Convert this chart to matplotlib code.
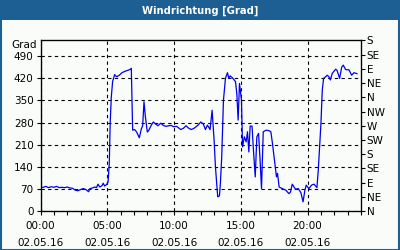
"""Wind direction chart (Windrichtung) for one day."""

import matplotlib
matplotlib.use("Agg")
import matplotlib.pyplot as plt
from matplotlib.patches import Rectangle

# ── data: hour of day and wind direction in degrees ─────────────────────────
hours = [
    0.0, 0.2, 0.4, 0.6, 0.8, 1.0, 1.2, 1.4, 1.6, 1.8, 2.0, 2.2, 2.4, 2.6, 2.8,
    3.0, 3.2, 3.4, 3.6, 3.7, 3.9, 4.07, 4.2, 4.3, 4.44, 4.6, 4.7, 4.8, 4.95,
    5.06, 5.15, 5.22, 5.3, 5.4, 5.55, 5.7, 5.9, 6.1, 6.3, 6.5, 6.7, 6.8, 6.9,
    7.05, 7.2, 7.4, 7.55, 7.65, 7.75, 7.85, 8.0, 8.1, 8.3, 8.45, 8.6, 8.8, 9.0,
    9.2, 9.4, 9.6, 9.8, 9.95, 10.2, 10.5, 10.7, 10.9, 11.1, 11.3, 11.5, 11.8,
    12.0, 12.2, 12.35, 12.5, 12.7, 12.85, 13.0, 13.1, 13.27, 13.4, 13.47,
    13.57, 13.7, 13.85, 14.0, 14.1, 14.2, 14.35, 14.5, 14.6, 14.7, 14.8, 14.9,
    14.96, 15.05, 15.13, 15.26, 15.4, 15.5, 15.6, 15.7, 15.84, 15.93, 16.08,
    16.2, 16.33, 16.43, 16.55, 16.68, 16.9, 17.13, 17.25, 17.37, 17.57, 17.67,
    17.75, 17.87, 18.1, 18.37, 18.6, 18.72, 18.85, 19.0, 19.1, 19.3, 19.5,
    19.66, 19.8, 19.9, 20.1, 20.3, 20.48, 20.7, 20.8, 21.0, 21.1, 21.2, 21.35,
    21.47, 21.6, 21.7, 21.85, 22.1, 22.2, 22.4, 22.55, 22.67, 22.85, 23.1,
    23.3, 23.47, 23.7,
]
direction = [
    74, 75, 78, 74, 77, 75, 78, 74, 75, 74, 76, 73, 72, 66, 64,
    68, 71, 68, 61, 71, 73, 76, 74, 85, 76, 80, 88, 79, 84,
    92, 150, 280, 360, 410, 432, 425, 430, 438, 442, 445, 448, 452, 256,
    258, 250, 232, 260, 270, 346, 300, 250, 255, 272, 282, 276, 270, 278,
    271, 268, 270, 271, 267, 268, 258, 262, 270, 262, 258, 262, 272,
    282, 275, 258, 272, 258, 319, 224, 140, 45, 48, 87,
    171, 351, 420, 438, 420, 428, 423, 415, 410, 372, 288, 404,
    383, 351, 203, 235, 219, 251, 187, 269, 269, 203, 108,
    235, 246, 171, 71, 251, 256, 254, 251, 214, 145, 108,
    119, 76, 71, 66, 55, 60, 85, 75, 69, 71, 58,
    29, 66, 82, 71, 82, 85, 74, 129, 277, 383, 420, 425,
    430, 425, 415, 436, 449, 446, 420, 455, 462, 448, 447,
    430, 438, 435,
]

y_ticks = [0, 70, 140, 210, 280, 350, 420, 490]
x_major = [0, 5, 10, 15, 20]
time_labels = ["00:00", "05:00", "10:00", "15:00", "20:00"]
date_label = "02.05.16"
compass_ticks = list(range(0, 541, 45))
compass_labels = ["N", "NE", "E", "SE", "S", "SW", "W", "NW",
                  "N", "NE", "E", "SE", "S"]

BLUE = "#1d5e93"
BG = "#fafcfa"
FS = 7.5

fig = plt.figure(figsize=(4, 2.5), dpi=100)
fig.patch.set_facecolor(BG)

# title bar + frame
fig.add_artist(Rectangle((0, 1 - 20 / 250), 1, 20 / 250, transform=fig.transFigure,
                         facecolor=BLUE, edgecolor="none", zorder=0))
fig.add_artist(Rectangle((0.5 / 400, 0.5 / 250), 1 - 1.5 / 400, 1 - 1.5 / 250,
                         transform=fig.transFigure, facecolor="none",
                         edgecolor=BLUE, linewidth=1.5, zorder=5))
fig.text(0.5, 1 - 10.5 / 250, "Windrichtung [Grad]", ha="center", va="center",
         color="white", fontsize=7.2, fontweight="bold")

ax = fig.add_axes([40.5 / 400, 1 - 211 / 250, (361 - 40.5) / 400, (211 - 40.5) / 250])
ax.set_facecolor(BG)
ax.plot(hours, direction, color="#0000ee", linewidth=0.9, zorder=3)

ax.set_xlim(0, 24)
ax.set_ylim(0, 540)
ax.set_yticks(y_ticks)
ax.set_xticks(x_major)
ax.set_xticklabels([f"{t}\n{date_label}" for t in time_labels], fontsize=FS,
                   linespacing=1.9)
ax.set_xticks(range(0, 25), minor=True)
ax.tick_params(axis="both", which="both", direction="out", length=3, width=0.8,
               labelsize=FS, colors="black", pad=2)
ax.tick_params(axis="x", which="major", pad=4)
ax.grid(True, which="major", color="black", linestyle=(0, (3, 3)), linewidth=0.8)
for s in ax.spines.values():
    s.set_linewidth(0.9)

ax2 = ax.twinx()
ax2.set_ylim(0, 540)
ax2.set_yticks(compass_ticks)
ax2.set_yticklabels(compass_labels)
ax2.tick_params(axis="y", direction="out", length=3, width=0.8, labelsize=FS, pad=1)

ax.text(-0.01, 1.0, "Grad", transform=ax.transAxes, ha="right", va="top",
        fontsize=FS)

fig.savefig("out.png", dpi=100, facecolor=BG)
